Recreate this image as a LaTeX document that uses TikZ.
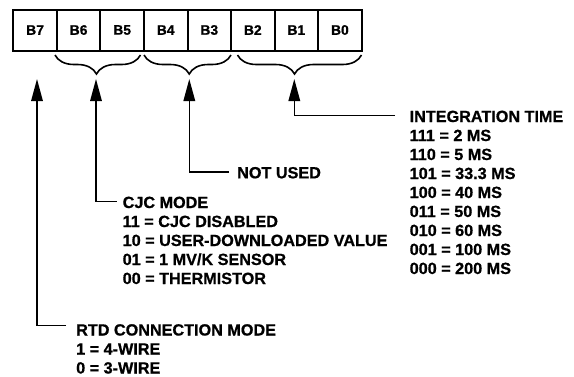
\documentclass[tikz,border=0pt]{standalone}
\usepackage{fontspec}
\setmainfont{Liberation Sans}[BoldFont={Liberation Sans Bold},BoldFeatures={FakeBold=0.8}]
\usetikzlibrary{decorations.pathreplacing,arrows.meta}
\begin{document}
\begin{tikzpicture}[x=1pt,y=-1pt,
  bit/.style={draw,line width=2pt,minimum width=43.55pt,minimum height=41pt,inner sep=0pt,
    font=\fontsize{13.8}{16}\selectfont\bfseries},
  brc/.style={decorate,decoration={brace,mirror,amplitude=19pt,aspect=#1},line width=1.6pt},
  lead/.style={line width=1.6pt,-{Triangle[length=22pt,width=11.5pt]}},
  lbl/.style={align=left,anchor=north west,inner sep=0pt,
    font=\fontsize{16.2}{19}\selectfont\bfseries}]
\useasboundingbox (0,0) rectangle (574,376);
% register boxes
\foreach \i/\l in {0/B7,1/B6,2/B5,3/B4,4/B3,5/B2,6/B1,7/B0}
  \node[bit] (\l) at ({35.08+43.55*\i},30) {\l};
% braces
\draw[brc=0.485] (55,55) -- (140.5,55);
\draw[brc=0.52] (144,55) -- (231,55);
\draw[brc=0.46] (237.5,55) -- (361.5,55);
% arrow tips
\coordinate (t7) at (37,79);
\coordinate (t65) at (96,79);
\coordinate (t43) at (189.3,79);
\coordinate (t20) at (294.3,79);
% labels
\node[lbl] (it) at (409.5,110.5) {INTEGRATION TIME\\111 = 2 MS\\110 = 5 MS\\101 = 33.3 MS\\100 = 40 MS\\011 = 50 MS\\010 = 60 MS\\001 = 100 MS\\000 = 200 MS};
\node[lbl] (nu) at (237,166.8) {NOT USED};
\node[lbl] (cjc) at (122.5,196.5) {CJC MODE\\11 = CJC DISABLED\\10 = USER-DOWNLOADED VALUE\\01 = 1 MV/K SENSOR\\00 = THERMISTOR};
\node[lbl] (rtd) at (76,324) {RTD CONNECTION MODE\\1 = 4-WIRE\\0 = 3-WIRE};
% leader start points
\coordinate (itl) at (395,115.5);
\coordinate (nul) at (229,172);
\coordinate (cjcl) at (116.7,201.5);
\coordinate (rtdl) at (66,325.5);
\draw[lead] (itl) -| (t20);
\draw[lead] (nul) -| (t43);
\draw[lead] (cjcl) -| (t65);
\draw[lead] (rtdl) -| (t7);
\end{tikzpicture}
\end{document}
